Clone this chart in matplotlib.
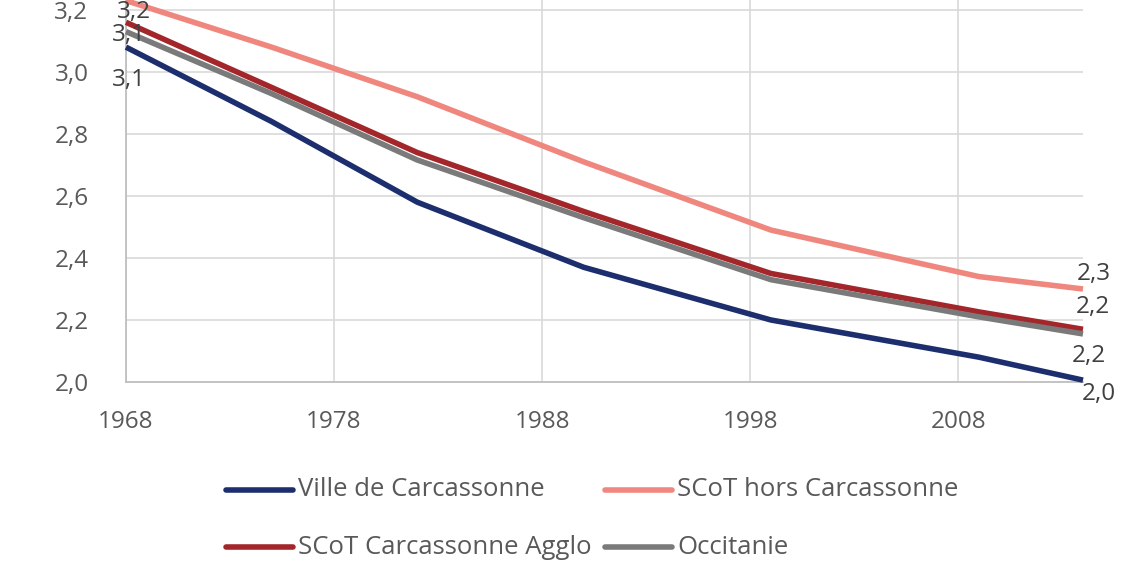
import matplotlib
matplotlib.use("Agg")
import matplotlib.pyplot as plt
from matplotlib.lines import Line2D

years = [1968, 1975, 1982, 1990, 1999, 2009, 2014]
ville = [3.08, 2.84, 2.58, 2.37, 2.20, 2.08, 2.006]
hors = [3.23, 3.08, 2.92, 2.71, 2.49, 2.34, 2.30]
agglo = [3.16, 2.95, 2.74, 2.55, 2.35, 2.226, 2.17]
occitanie = [3.13, 2.93, 2.716, 2.53, 2.33, 2.21, 2.155]

series_names = ["Ville de Carcassonne", "SCoT hors Carcassonne",
                "SCoT Carcassonne Agglo", "Occitanie"]
series_values = [ville, hors, agglo, occitanie]
colors = ["#1c2e6e", "#f0877e", "#a3272a", "#7a7a7a"]

x_ticks = [1968, 1978, 1988, 1998, 2008]
y_ticks = [2.0, 2.2, 2.4, 2.6, 2.8, 3.0, 3.2]

plt.rcParams['font.family'] = ['Open Sans', 'DejaVu Sans']
txt_color = "#595959"

W, H = 1139, 567
fig = plt.figure(figsize=(W / 100, H / 100), dpi=100)
left, right, bottom, top = 126, 1083, 382, 0
ax = fig.add_axes([left / W, 1 - bottom / H, (right - left) / W, (bottom - top) / H])

def fmt(v):
    return f"{v:.1f}".replace(".", ",")

for vals, c in zip(series_values, colors):
    ax.plot(years, vals, color=c, lw=4.0, solid_capstyle="butt", zorder=3, clip_on=False)

ax.set_xlim(1968, 2014)
ax.set_ylim(2.0, 3.232)
ax.set_xticks(x_ticks)
ax.set_yticks(y_ticks)
ax.set_yticklabels([fmt(v) for v in y_ticks])
ax.tick_params(length=0, labelsize=17.5, colors=txt_color)
ax.tick_params(axis="y", pad=27)
ax.tick_params(axis="x", pad=20)
ax.grid(True, color="#d9d9d9", lw=1.2)
ax.set_axisbelow(True)
for s in ["top", "right"]:
    ax.spines[s].set_visible(False)
for s in ["left", "bottom"]:
    ax.spines[s].set_color("#bfbfbf")
    ax.spines[s].set_linewidth(1.3)

# data labels
lab_kw = dict(fontsize=17.5, color="#404040", textcoords="offset pixels", zorder=5,
              ha="center", va="center")
ax.annotate(fmt(hors[0]), (years[0], hors[0]), xytext=(8, -11), **lab_kw)
ax.annotate(fmt(occitanie[0]), (years[0], occitanie[0]), xytext=(3, -3), **lab_kw)
ax.annotate(fmt(ville[0]), (years[0], ville[0]), xytext=(3, -33), **lab_kw)
ax.annotate(fmt(hors[-1]), (years[-1], hors[-1]), xytext=(11, 15), **lab_kw)
ax.annotate(fmt(agglo[-1]), (years[-1], agglo[-1]), xytext=(10, 22), **lab_kw)
ax.annotate(fmt(occitanie[-1]), (years[-1], occitanie[-1]), xytext=(6, -22), **lab_kw)
ax.annotate(fmt(ville[-1]), (years[-1], ville[-1]), xytext=(16, -14), **lab_kw)

# legend (2-column grid like Excel)
legend_pos = [(226, 490), (605, 490), (226, 547), (605, 547)]
for name, c, (lx, ly) in zip(series_names, colors, legend_pos):
    fy = 1 - ly / H
    fig.add_artist(Line2D([lx / W, (lx + 67) / W], [fy, fy], color=c, lw=4.0,
                          solid_capstyle="round", transform=fig.transFigure))
    fig.text((lx + 72) / W, fy, name, fontsize=18.5, color=txt_color, va="center", ha="left")

fig.savefig("out.png", dpi=100, facecolor="white")
